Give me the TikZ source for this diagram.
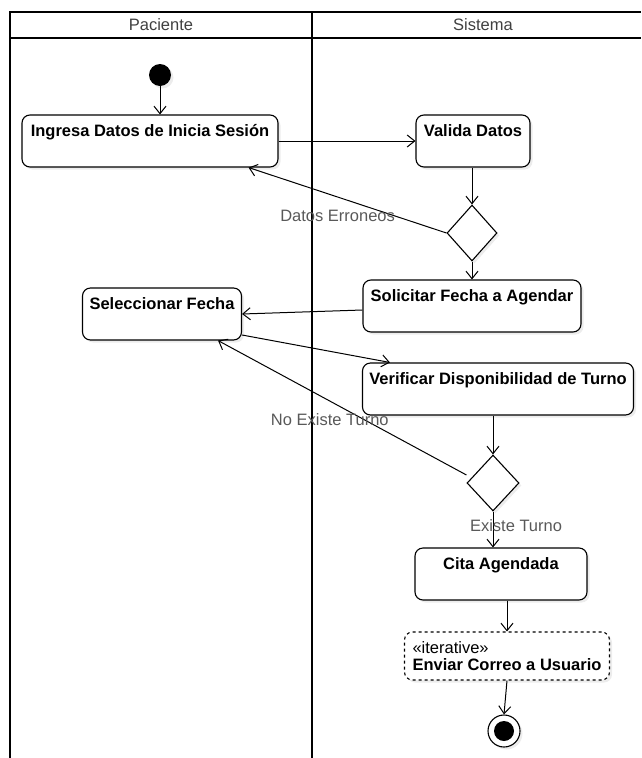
\documentclass[tikz,border=0pt]{standalone}
\usepackage{fontspec}
\setmainfont{Liberation Sans}
\usetikzlibrary{arrows.meta,shapes.geometric,shadows}

\begin{document}
\begin{tikzpicture}[x = 1pt, y = -1pt,
  every node/.style = {font = \fontsize{16.5}{17}\selectfont},
  sombra/.style = {drop shadow = {shadow xshift = 2.5pt, shadow yshift = -2.5pt, opacity = 0.15}},
  carril/.style = {line width = 2.4pt},
  accion/.style = {draw, rounded corners = 8pt, line width = 1.1pt, fill = white, sombra,
                   font = \fontsize{16.5}{17}\selectfont\bfseries,
                   minimum height = 52pt, inner ysep = 6pt, text height = 15pt, text depth = 25pt},
  iterativa/.style = {accion, dashed, align = left, text height = , text depth = ,
                      minimum height = 48pt, inner xsep = 7pt},
  decision/.style = {draw, diamond, line width = 1.1pt, fill = white, sombra, inner sep = 0pt},
  flujo/.style = {-{Straight Barb[length = 7.5pt, width = 12pt]}, line width = 1pt},
  guarda/.style = {text = black!65},
  ]
  \useasboundingbox (0,0) rectangle (641,758);

  % carriles
  \draw[carril] (10,758) -- (10,12) -- (641,12);
  \draw[carril] (10,38) -- (641,38);
  \draw[carril] (312,12) -- (312,758);
  \node[text = black!75] (paciente) at (161,25) {Paciente};
  \node[text = black!75] (sistema) at (483,25) {Sistema};

  % nodos
  \node[circle, fill = black, minimum size = 22pt, inner sep = 0pt, sombra] (inicio) at (160,75) {};
  \node[accion, minimum width = 256pt] (ingresa) at (150,141) {Ingresa Datos de Inicia Sesión};
  \node[accion, minimum width = 114pt] (valida) at (473,141) {Valida Datos};
  \node[decision, minimum width = 50pt, minimum height = 56pt] (dec1) at (472,233) {};
  \node[accion, minimum width = 218pt] (solicitar) at (472,306) {Solicitar Fecha a Agendar};
  \node[accion, minimum width = 159pt] (seleccionar) at (162,314) {Seleccionar Fecha};
  \node[accion, minimum width = 271pt] (verificar) at (498,389) {Verificar Disponibilidad de Turno};
  \node[decision, minimum width = 52pt, minimum height = 56pt] (dec2) at (493,483) {};
  \node[accion, minimum width = 172pt] (cita) at (501,574) {Cita Agendada};
  \node[iterativa, minimum width = 205pt] (enviar) at (507,656)
       {\mdseries «iterative»\\Enviar Correo a Usuario};
  \node[circle, draw, line width = 1.1pt, fill = white, minimum size = 32pt, inner sep = 0pt, sombra] (fin) at (504,731) {};
  \fill (fin.center) circle (10pt);

  % transiciones
  \draw[flujo] (inicio.south) -- (inicio.south |- ingresa.north);
  \draw[flujo] (ingresa.east) -- (valida.west);
  \draw[flujo] (valida.south -| dec1.north) -- (dec1.north);
  \draw[flujo] (dec1.west) -- node[guarda, pos = 0.55, below = 9pt] {Datos Erroneos}
               ([xshift = -30pt]ingresa.south east);
  \draw[flujo] (dec1.south) -- (solicitar.north);
  \draw[flujo] ([yshift = -4pt]solicitar.west) -- (seleccionar.east);
  \draw[flujo] ([yshift = -21pt]seleccionar.east) -- ([xshift = 28pt]verificar.north west);
  \draw[flujo] (verificar.south -| dec2.north) -- (dec2.north);
  \draw[flujo] ([yshift = 8pt]dec2.west) -- node[guarda, pos = 0.55, below = 9pt] {No Existe Turno}
               ([xshift = -24pt]seleccionar.south east);
  \draw[flujo] (dec2.south) -- node[guarda, pos = 0.4, xshift = 23pt] {Existe Turno} (dec2.south |- cita.north);
  \draw[flujo] (enviar.north |- cita.south) -- (enviar.north);
  \draw[flujo] (enviar.south) -- (fin.north);
\end{tikzpicture}
\end{document}
